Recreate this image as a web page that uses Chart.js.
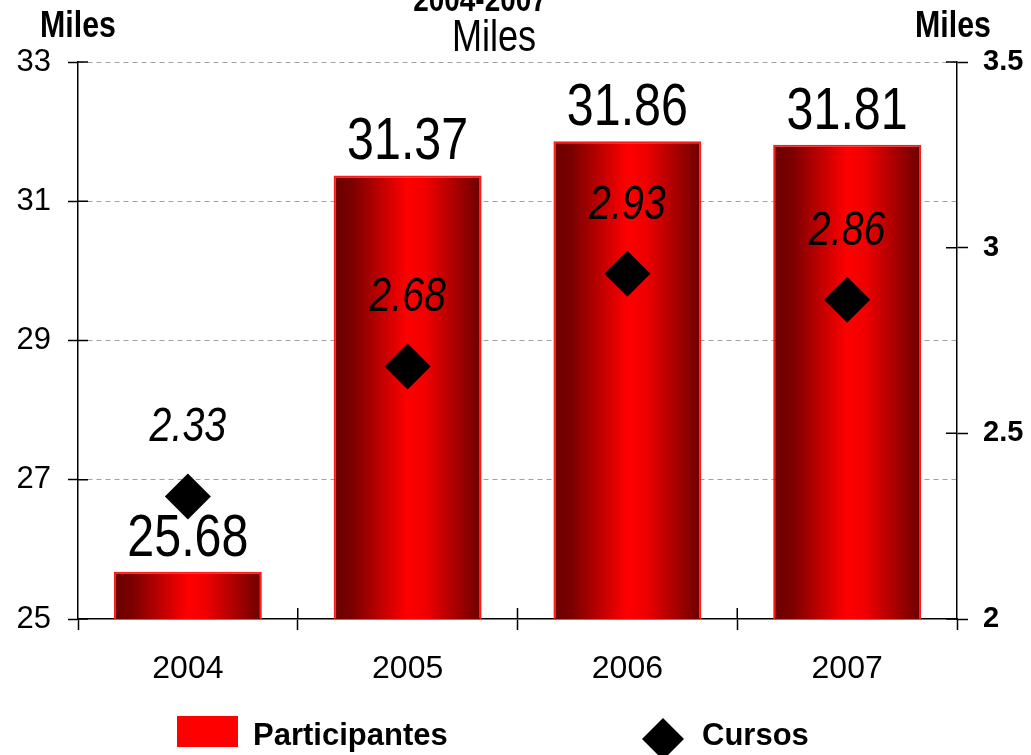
<!DOCTYPE html>
<html>
<head>
<meta charset="utf-8">
<script src="https://cdn.jsdelivr.net/npm/chart.js@4.4.1/dist/chart.umd.min.js"></script>
<style>
  body { margin: 0; background: #fff; }
  #wrap { width: 1031px; height: 755px; }
</style>
</head>
<body>
<div id="wrap"><canvas id="chart" width="1031" height="755"></canvas></div>
<script>
const years = ['2004', '2005', '2006', '2007'];
const participantes = [25.68, 31.37, 31.86, 31.81];
const cursos = [2.33, 2.68, 2.93, 2.86];
const leftTicks = [25, 33, 2];
const rightTicks = [2, 3.5, 0.5];

const SANS = '"Liberation Sans", Arial, sans-serif';
const NARROW_SCALE = 0.82;
const BAR_PCT = 0.673;

function barGradient(context) {
    const chart = context.chart;
    const area = chart.chartArea;
    if (!area || context.dataIndex === undefined) return '#ff0000';
    const x = chart.scales.x.getPixelForValue(context.dataIndex);
    const half = (area.width / years.length) * BAR_PCT / 2;
    const g = chart.ctx.createLinearGradient(x - half, 0, x + half, 0);
    g.addColorStop(0, '#6b0000');
    g.addColorStop(0.12, '#7a0000');
    g.addColorStop(0.5, '#ff0000');
    g.addColorStop(0.62, '#f00000');
    g.addColorStop(1, '#6b0000');
    return g;
}

// draws text like Arial Narrow: Liberation Sans squeezed horizontally
function narrowText(ctx, text, x, y, font) {
    ctx.save();
    ctx.font = font;
    ctx.textAlign = 'center';
    ctx.textBaseline = 'alphabetic';
    ctx.translate(x, y);
    ctx.scale(NARROW_SCALE, 1);
    ctx.fillText(text, 0, 0);
    ctx.restore();
}

// value labels, titles, legend and the inner half of the crossing ticks
const decorations = {
    id: 'decorations',
    afterDatasetsDraw(chart) {
        const ctx = chart.ctx;
        const area = chart.chartArea;
        ctx.fillStyle = '#000';
        chart.getDatasetMeta(1).data.forEach((el, i) => {
            const y = Math.max(el.y - 16, area.top + 47);
            narrowText(ctx, participantes[i].toFixed(2), el.x, y, '59px ' + SANS);
        });
        chart.getDatasetMeta(0).data.forEach((el, i) => {
            narrowText(ctx, cursos[i].toFixed(2), el.x, el.y - 55, 'italic 48px ' + SANS);
        });
    },
    afterDraw(chart) {
        const ctx = chart.ctx;
        const area = chart.chartArea;
        const {y, y2} = chart.scales;
        ctx.save();
        ctx.strokeStyle = '#000';
        ctx.lineWidth = 1.5;
        ctx.beginPath();
        y.ticks.forEach(t => {
            const py = y.getPixelForValue(t.value);
            ctx.moveTo(area.left, py); ctx.lineTo(area.left + 10, py);
        });
        y2.ticks.forEach(t => {
            const py = y2.getPixelForValue(t.value);
            ctx.moveTo(area.right - 11, py); ctx.lineTo(area.right, py);
        });
        const step = area.width / years.length;
        for (let i = 1; i < years.length; i++) {
            const px = area.left + step * i;
            ctx.moveTo(px, area.bottom); ctx.lineTo(px, area.bottom - 11);
        }
        ctx.stroke();

        ctx.fillStyle = '#000';
        narrowText(ctx, '2004-2007', 480, 11, 'bold 34px ' + SANS);
        narrowText(ctx, 'Miles', 494, 51, '44px ' + SANS);
        narrowText(ctx, 'Miles', area.left, 37, 'bold 37px ' + SANS);
        narrowText(ctx, 'Miles', area.right - 4, 37, 'bold 37px ' + SANS);

        // legend
        ctx.fillStyle = '#ff0000';
        ctx.fillRect(177, 716, 61, 31);
        ctx.fillStyle = '#000';
        ctx.beginPath();
        ctx.moveTo(663, 718); ctx.lineTo(684, 739); ctx.lineTo(663, 760); ctx.lineTo(642, 739);
        ctx.closePath();
        ctx.fill();
        ctx.textAlign = 'left';
        ctx.textBaseline = 'alphabetic';
        ctx.font = 'bold 31px ' + SANS;
        ctx.fillText('Participantes', 253, 745);
        ctx.fillText('Cursos', 702, 745);
        ctx.restore();
    }
};

new Chart(document.getElementById('chart'), {
    data: {
        labels: years,
        datasets: [{
            type: 'line',
            label: 'Cursos',
            data: cursos,
            yAxisID: 'y2',
            showLine: false,
            pointStyle: 'rectRot',
            pointRadius: 23,
            pointHoverRadius: 23,
            backgroundColor: '#000',
            borderColor: '#000',
            borderWidth: 0,
            order: 0
        }, {
            type: 'bar',
            label: 'Participantes',
            data: participantes,
            yAxisID: 'y',
            backgroundColor: barGradient,
            borderColor: '#ff1a1a',
            borderWidth: 2,
            borderSkipped: 'bottom',
            categoryPercentage: 1,
            barPercentage: BAR_PCT,
            order: 1
        }]
    },
    options: {
        responsive: false,
        animation: false,
        layout: { padding: { top: 62, bottom: 0, left: 0, right: 0 } },
        plugins: {
            legend: { display: false },
            tooltip: { enabled: false }
        },
        scales: {
            x: {
                offset: true,
                grid: { offset: true, drawOnChartArea: false, tickLength: 11, tickColor: '#000', tickWidth: 1.5 },
                border: { color: '#000', width: 1.5 },
                ticks: { color: '#000', font: { family: SANS, size: 32 }, padding: 20 },
                afterFit(scale) { scale.height = 136; }
            },
            y: {
                position: 'left',
                min: leftTicks[0],
                max: leftTicks[1],
                ticks: { stepSize: leftTicks[2], color: '#000', font: { family: SANS, size: 31 }, padding: 17 },
                grid: {
                    color: ctx => ctx.tick && ctx.tick.value === leftTicks[0] ? 'rgba(0,0,0,0)' : '#a0a0a0',
                    lineWidth: 1,
                    tickLength: 10,
                    tickColor: '#000',
                    tickWidth: 1.5
                },
                border: { color: '#000', width: 1.5, dash: [5, 4] },
                afterFit(scale) { scale.width = 78; }
            },
            y2: {
                position: 'right',
                min: rightTicks[0],
                max: rightTicks[1],
                ticks: {
                    stepSize: rightTicks[2],
                    color: '#000',
                    font: { family: SANS, size: 29, weight: 'bold' },
                    padding: 15,
                    callback: v => String(v)
                },
                grid: { drawOnChartArea: false, tickLength: 11, tickColor: '#000', tickWidth: 1.5 },
                border: { color: '#000', width: 1.5 },
                afterFit(scale) { scale.width = 74; }
            }
        }
    },
    plugins: [decorations]
});
</script>
</body>
</html>
